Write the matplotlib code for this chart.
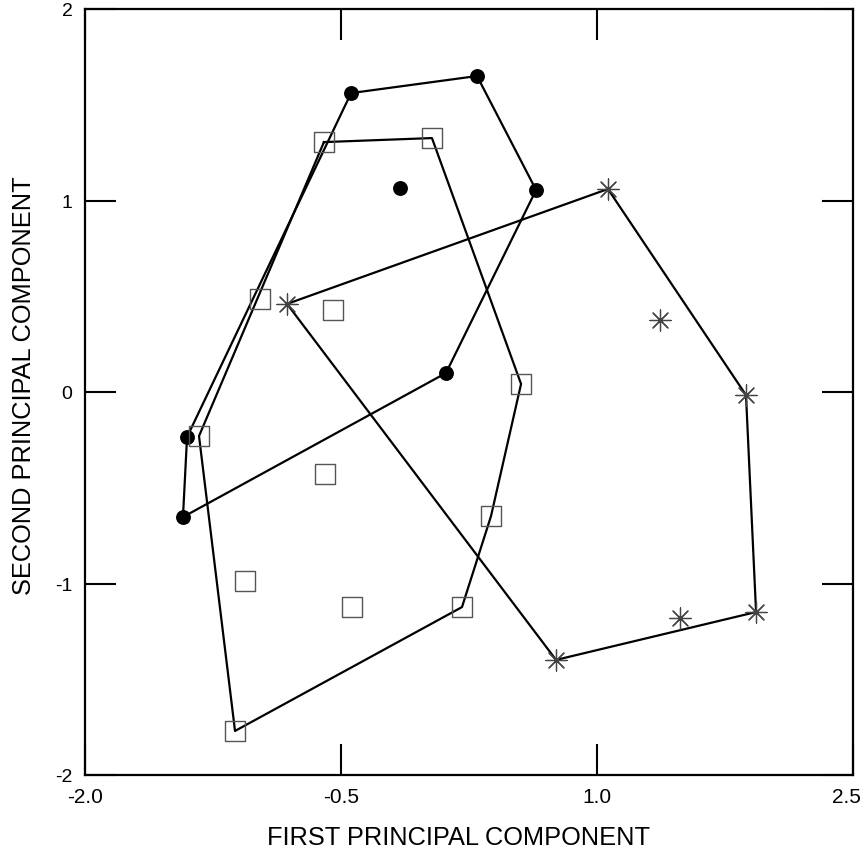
import matplotlib
matplotlib.use("Agg")
import matplotlib.pyplot as plt
from matplotlib.transforms import ScaledTranslation

# Group 1: filled circles
g1_x = [-0.441, 0.297, 0.643, 0.115, -1.426, -1.402, -0.154]
g1_y = [1.561, 1.650, 1.055, 0.099, -0.653, -0.235, 1.065]
g1_hull = [0, 1, 2, 3, 4, 5, 0]

# Group 2: open squares
g2_x = [-0.600, 0.033, 0.555, 0.379, 0.209, -1.121, -1.332, -0.975, -0.547, -0.594, -1.063, -0.436]
g2_y = [1.305, 1.326, 0.042, -0.648, -1.123, -1.770, -0.230, 0.486, 0.428, -0.428, -0.987, -1.123]
g2_hull = [0, 1, 2, 3, 4, 5, 6, 0]

# Group 3: asterisks
g3_x = [-0.816, 1.064, 1.873, 1.932, 0.760, 1.369, 1.486]
g3_y = [0.460, 1.060, -0.016, -1.149, -1.399, 0.376, -1.180]
g3_hull = [0, 1, 2, 3, 4, 0]

x_ticks = [-2.0, -0.5, 1.0, 2.5]
x_ticklabels = ["-2.0", "-0.5", "1.0", "2.5"]
y_ticks = [-2, -1, 0, 1, 2]
y_ticklabels = ["-2", "-1", "0", "1", "2"]

fam = "Liberation Sans"

fig = plt.figure(figsize=(8.62, 8.54), dpi=100)
ax = fig.add_axes([85/862, 1-776/854, 768/862, 766/854])

for xs, ys, hull in [(g1_x, g1_y, g1_hull), (g2_x, g2_y, g2_hull), (g3_x, g3_y, g3_hull)]:
    ax.plot([xs[i] for i in hull], [ys[i] for i in hull], color="black", lw=1.6, zorder=2)

ax.scatter(g1_x, g1_y, s=115, color="black", marker="o", zorder=3, linewidths=0)
ax.scatter(g2_x, g2_y, s=210, facecolors="none", edgecolors="#555555", marker="s", linewidths=1.0, zorder=3)
ax.scatter(g3_x, g3_y, s=230, color="#444444", marker=(8, 2, 0), linewidths=0.9, zorder=3)

ax.set_xlim(-2.0, 2.5)
ax.set_ylim(-2, 2)
ax.set_xticks(x_ticks)
ax.set_xticklabels(x_ticklabels, fontfamily=fam, fontsize=15)
ax.set_yticks(y_ticks)
ax.set_yticklabels(y_ticklabels, fontfamily=fam, fontsize=14)
ax.tick_params(axis="both", direction="in", length=22, width=1.5, top=True, right=True)
ax.tick_params(axis="x", pad=9)
ax.tick_params(axis="y", pad=9)
for sp in ax.spines.values():
    sp.set_linewidth(1.6)

last = ax.get_xticklabels()[-1]
last.set_transform(last.get_transform() + ScaledTranslation(-7/100, 0, fig.dpi_scale_trans))

ax.set_xlabel("FIRST PRINCIPAL COMPONENT", fontfamily=fam, fontsize=18.3, labelpad=13)
ax.set_ylabel("SECOND PRINCIPAL COMPONENT", fontfamily=fam, fontsize=18.3, labelpad=14)
ax.xaxis.label.set_x(0.486)
ax.yaxis.label.set_y(0.51)

fig.savefig("out.png", dpi=100)
